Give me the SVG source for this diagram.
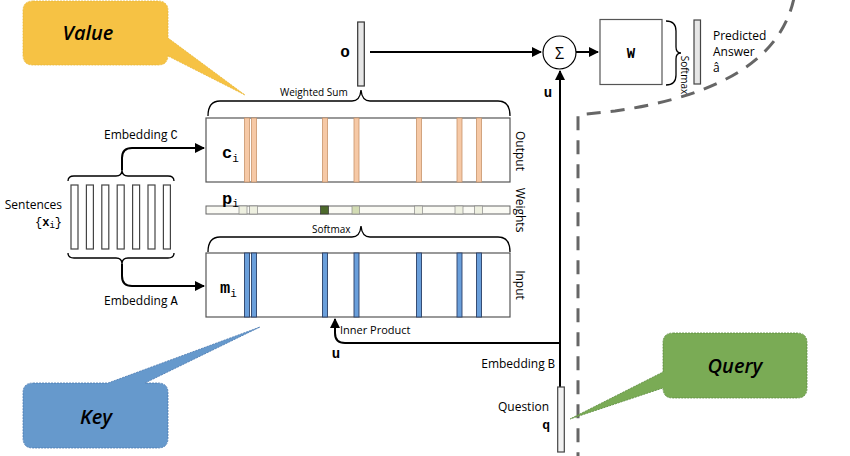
<svg xmlns="http://www.w3.org/2000/svg" width="850" height="456" viewBox="0 0 850 456">
<defs>
<marker id="arr" viewBox="0 0 10 10" refX="9" refY="5" markerWidth="5" markerHeight="5" orient="auto" markerUnits="strokeWidth">
<path d="M0,0 L10,5 L0,10 z" fill="#000"/>
</marker>
<style>
.sans{font-family:"Open Sans","Liberation Sans",sans-serif;fill:#000}
.mono{font-family:"Liberation Mono","DejaVu Sans Mono",monospace;font-weight:bold;fill:#000}
.mn{font-family:"Liberation Mono","DejaVu Sans Mono",monospace;font-weight:normal}
.box{fill:#fff;stroke:#555;stroke-width:1.2}
.bar{fill:#fff;stroke:#444;stroke-width:1.2}
.conn{fill:none;stroke:#000;stroke-width:2}
.brace{fill:none;stroke:#000;stroke-width:1.3}
.or{fill:#f6c9a6;stroke:#c9946c;stroke-width:0.8}
.bl{fill:#6a9fdb;stroke:#2a3f66;stroke-width:0.9}
.wc{fill:#eef0e0;stroke:#888;stroke-width:0.7}
.call{font-family:"Open Sans","Liberation Sans",sans-serif;font-style:italic;font-weight:600;font-size:20px;fill:#000}
</style>
</defs>
<rect width="850" height="456" fill="#fff"/>

<!-- dashed boundary -->
<path d="M 794 -2 Q 775 88 615 111 L 578 115 L 578 456" fill="none" stroke="#666" stroke-width="3" stroke-dasharray="14 10"/>

<!-- callouts -->
<g id="value">
<path d="M 33 1 L 158 1 Q 168 1 168 11 L 168 38 L 245 95 L 168 56 L 168 55 Q 168 65 158 65 L 33 65 Q 23 65 23 55 L 23 11 Q 23 1 33 1 z" fill="#f6c244" stroke="#e8b838" stroke-width="0.8" stroke-dasharray="2 1"/>
<text class="call" x="88" y="40" text-anchor="middle">Value</text>
</g>
<g id="key">
<path d="M 33 383 L 108 383 L 260 327 L 145 383 L 158 383 Q 168 383 168 393 L 168 438 Q 168 448 158 448 L 33 448 Q 23 448 23 438 L 23 393 Q 23 383 33 383 z" fill="#6699cc" stroke="#4a78b0" stroke-width="0.8" stroke-dasharray="2 1"/>
<text class="call" x="96" y="424" text-anchor="middle">Key</text>
</g>
<g id="query">
<path d="M 673 333 L 797 333 Q 807 333 807 343 L 807 388 Q 807 398 797 398 L 673 398 Q 663 398 663 388 L 663 388 L 570 419 L 663 372 L 663 343 Q 663 333 673 333 z" fill="#7aab55" stroke="#5b8a3c" stroke-width="0.8" stroke-dasharray="2 1"/>
<text class="call" x="735" y="373" text-anchor="middle">Query</text>
</g>

<!-- connectors -->
<g id="connectors">
<path class="brace" d="M 68 181 Q 68 176 74 176 L 116 176 Q 122 176 122 170 M 122 170 Q 122 176 128 176 L 168 176 Q 174 176 174 181"/>
<path class="conn" d="M 122 170 L 122 158 Q 122 148 132 148 L 204 148" stroke-width="1.8" marker-end="url(#arr)"/>
<path class="brace" d="M 68 253 Q 68 258 74 258 L 116 258 Q 122 258 122 264 M 122 264 Q 122 258 128 258 L 168 258 Q 174 258 174 253"/>
<path class="conn" d="M 122 264 L 122 276 Q 122 286 132 286 L 204 286" stroke-width="1.8" marker-end="url(#arr)"/>
<path class="brace" d="M 208 116 Q 208 101 220 101 L 352 101 Q 360 101 361 90 Q 362 101 370 101 L 498 101 Q 510 101 510 116"/>
<path class="brace" d="M 208 252 Q 208 237 220 237 L 352 237 Q 360 237 361 226 Q 362 237 370 237 L 498 237 Q 510 237 510 252"/>
<path class="brace" d="M 666 21 Q 676 21 676 31 L 676 47 Q 676 53 681 53 Q 676 53 676 59 L 676 75 Q 676 85 666 85"/>
<path class="conn" d="M 370 52 L 541 52" marker-end="url(#arr)"/>
<path class="conn" d="M 576 52 L 598 52" marker-end="url(#arr)"/>
<path class="conn" d="M 560 387 L 560 71" marker-end="url(#arr)"/>
<path class="conn" d="M 560 343 L 345 343 Q 335 343 335 333 L 335 319" marker-end="url(#arr)"/>
</g>

<!-- sentences -->
<g id="sentences">
<rect class="bar" x="71" y="185" width="7" height="64"/>
<rect class="bar" x="86.4" y="185" width="7" height="64"/>
<rect class="bar" x="101.8" y="185" width="7" height="64"/>
<rect class="bar" x="117.2" y="185" width="7" height="64"/>
<rect class="bar" x="132.6" y="185" width="7" height="64"/>
<rect class="bar" x="148" y="185" width="7" height="64"/>
<rect class="bar" x="163.4" y="185" width="7" height="64"/>
<text class="sans" x="62" y="209" font-size="12" text-anchor="end">Sentences</text>
<text class="mn" x="62" y="226" font-size="12" text-anchor="end">{<tspan style="font-weight:bold">x</tspan><tspan font-size="9" dy="2">i</tspan><tspan dy="-2">}</tspan></text>
<text class="sans" x="104" y="139" font-size="12">Embedding <tspan class="mn">C</tspan></text>
<text class="sans" x="104" y="305" font-size="12">Embedding <tspan class="mn">A</tspan></text>
</g>

<!-- output memory -->
<g id="output">
<rect class="box" x="206" y="118" width="304" height="64"/>
<rect class="or" x="244.5" y="118" width="5" height="64"/>
<rect class="or" x="251.5" y="118" width="5" height="64"/>
<rect class="or" x="322.5" y="118" width="5" height="64"/>
<rect class="or" x="354" y="118" width="5" height="64"/>
<rect class="or" x="416.5" y="118" width="5" height="64"/>
<rect class="or" x="457" y="118" width="5" height="64"/>
<rect class="or" x="476.5" y="118" width="5" height="64"/>
<text class="mono" x="222" y="158" font-size="17">c<tspan class="mn" font-size="11" dy="4">i</tspan></text>
<text class="sans" x="516" y="151" font-size="12" text-anchor="middle" transform="rotate(90 516 151)">Output</text>
<text class="sans" x="280" y="96" font-size="10">Weighted Sum</text>
</g>

<!-- weights -->
<g id="weights">
<rect x="206" y="206" width="304" height="8" fill="#fafaf4" stroke="#666" stroke-width="1"/>
<rect class="wc" x="239" y="206" width="8" height="8"/>
<rect class="wc" x="249.5" y="206" width="8" height="8"/>
<rect x="320.5" y="206" width="8" height="8" fill="#4d6a2c" stroke="#333" stroke-width="0.7"/>
<rect x="352" y="206" width="7.5" height="8" fill="#d3dcb4" stroke="#888" stroke-width="0.7"/>
<rect class="wc" x="414.5" y="206" width="8" height="8"/>
<rect class="wc" x="455" y="206" width="8" height="8"/>
<rect class="wc" x="474.5" y="206" width="8" height="8"/>
<text class="mono" x="222" y="204" font-size="17">p<tspan class="mn" font-size="11" dy="3">i</tspan></text>
<text class="sans" x="516" y="210" font-size="12" text-anchor="middle" transform="rotate(90 516 210)">Weights</text>
<text class="sans" x="312" y="233" font-size="10">Softmax</text>
</g>

<!-- input memory -->
<g id="input">
<rect class="box" x="206" y="253" width="304" height="64"/>
<rect class="bl" x="244.5" y="253" width="5" height="64"/>
<rect class="bl" x="251.5" y="253" width="5" height="64"/>
<rect class="bl" x="322.5" y="253" width="5" height="64"/>
<rect class="bl" x="354" y="253" width="5" height="64"/>
<rect class="bl" x="416.5" y="253" width="5" height="64"/>
<rect class="bl" x="457" y="253" width="5" height="64"/>
<rect class="bl" x="476.5" y="253" width="5" height="64"/>
<text class="mono" x="220" y="293" font-size="17">m<tspan class="mn" font-size="11" dy="4">i</tspan></text>
<text class="sans" x="516" y="285" font-size="12" text-anchor="middle" transform="rotate(90 516 285)">Input</text>
<text class="sans" x="340" y="334" font-size="11">Inner Product</text>
<text class="mono" x="336" y="358" font-size="14" text-anchor="middle">u</text>
</g>

<!-- o vector -->
<g id="o">
<rect x="357.7" y="22" width="6.6" height="64" fill="#e6e6e6" stroke="#333" stroke-width="1.2"/>
<text class="mono" x="345" y="57" font-size="16" text-anchor="middle">o</text>
</g>

<!-- sum -->
<g id="sum">
<circle cx="559.5" cy="52.5" r="16.5" fill="#fff" stroke="#000" stroke-width="1.2"/>
<text class="sans" x="559.5" y="58.5" font-size="16" text-anchor="middle">Σ</text>
<text class="mono" x="548" y="97" font-size="14" text-anchor="middle">u</text>
</g>

<!-- W -->
<g id="w">
<rect x="600" y="19.5" width="62" height="65" fill="#fff" stroke="#555" stroke-width="1.2"/>
<text class="mono" x="631" y="58" font-size="14" text-anchor="middle">W</text>
<text class="sans" x="681" y="75" font-size="10" text-anchor="middle" transform="rotate(90 681 75)">Softmax</text>
</g>

<!-- answer -->
<g id="answer">
<rect x="694" y="20" width="6.5" height="64" fill="#e6e6e6" stroke="#444" stroke-width="1.2"/>
<text class="sans" x="713" y="40" font-size="12">Predicted</text>
<text class="sans" x="713" y="56" font-size="12">Answer</text>
<text class="sans" x="713" y="72" font-size="12">â</text>
</g>

<!-- question -->
<g id="question">
<rect x="557.7" y="387" width="6.6" height="65" fill="#f2f2f2" stroke="#444" stroke-width="1.2"/>
<text class="sans" x="555" y="368" font-size="12" text-anchor="end">Embedding <tspan class="mn">B</tspan></text>
<text class="sans" x="549" y="411" font-size="12" text-anchor="end">Question</text>
<text class="mono" x="550" y="429" font-size="13" text-anchor="end">q</text>
</g>
</svg>
